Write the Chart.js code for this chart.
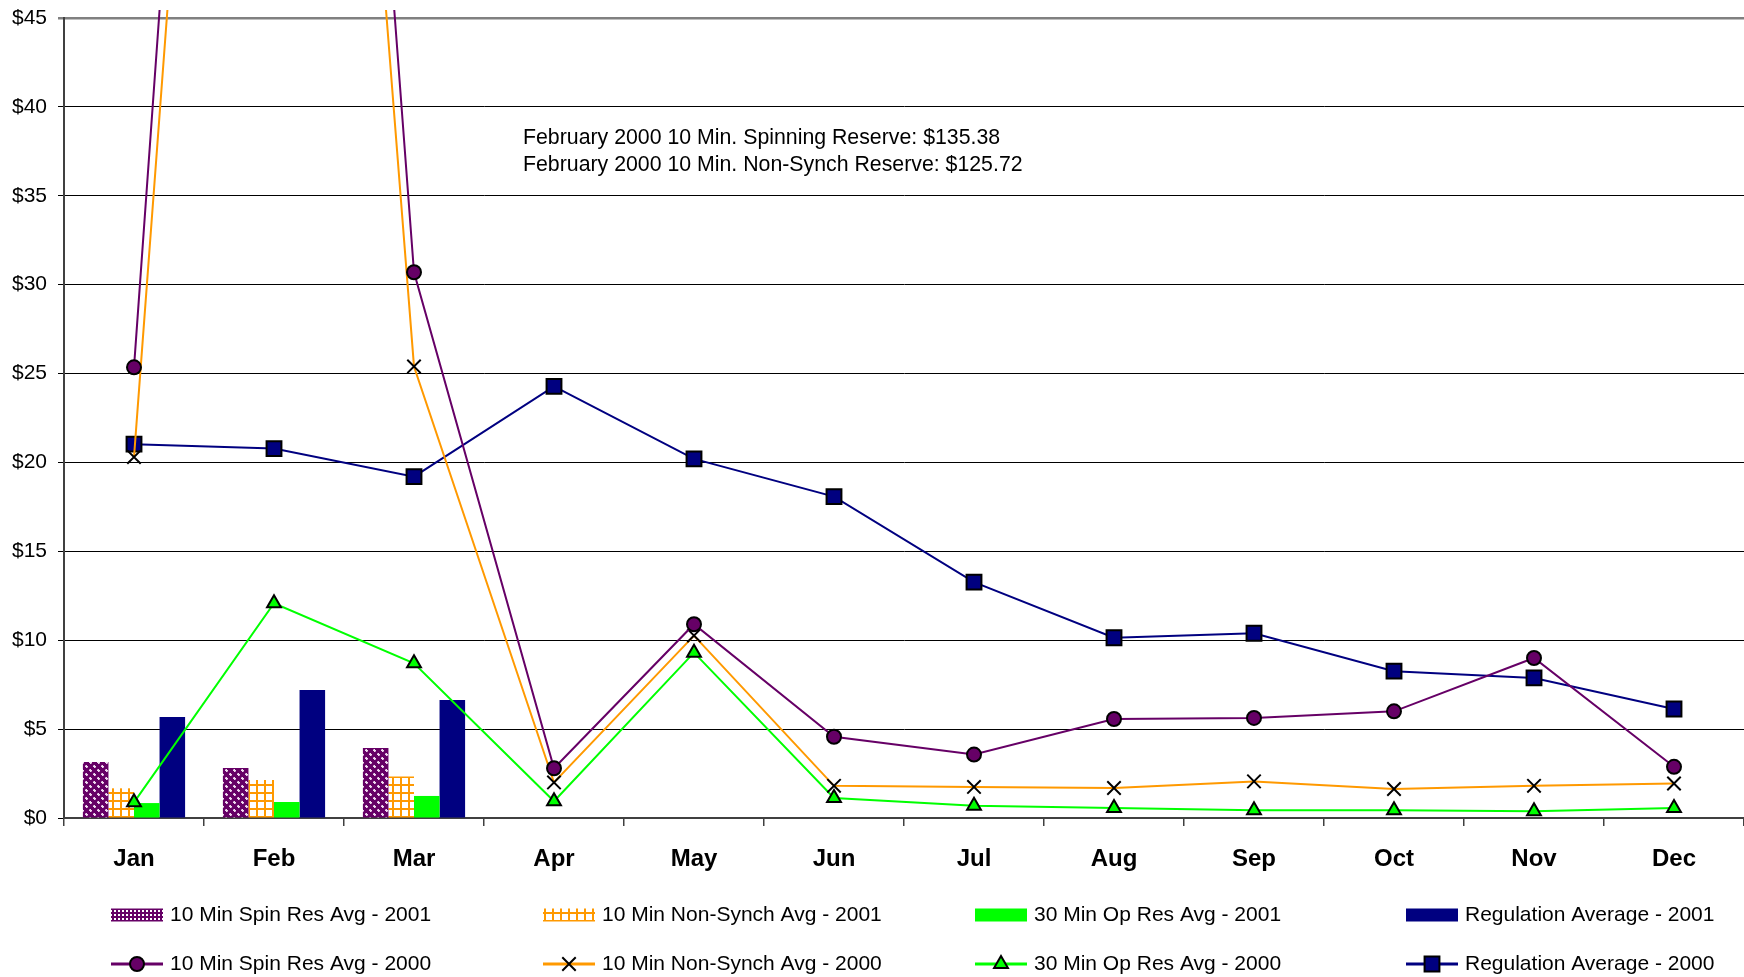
<!DOCTYPE html>
<html>
<head>
<meta charset="utf-8">
<script src="https://cdn.jsdelivr.net/npm/chart.js@4.4.1/dist/chart.umd.min.js"></script>
<style>
  html, body { margin: 0; padding: 0; background: #ffffff; }
  #wrap { width: 1744px; height: 977px; }
</style>
</head>
<body>
<div id="wrap"><canvas id="reserve-chart" width="1744" height="977"></canvas></div>
<script>
const FONT = '"Liberation Sans", Arial, sans-serif';

// ─── Data ─────────────────────────────────────────────────────────────────────

const MONTHS = ['Jan', 'Feb', 'Mar', 'Apr', 'May', 'Jun', 'Jul', 'Aug', 'Sep', 'Oct', 'Nov', 'Dec'];

// 2001 (bars, Jan-Mar only)
const spinRes2001 = [3.15, 2.81, 3.94, null, null, null, null, null, null, null, null, null];
const nonSynch2001 = [1.67, 2.14, 2.34, null, null, null, null, null, null, null, null, null];
const opRes2001 = [0.84, 0.9, 1.24, null, null, null, null, null, null, null, null, null];
const regulation2001 = [5.68, 7.2, 6.64, null, null, null, null, null, null, null, null, null];

// 2000 (lines)
const spinRes2000 = [25.35, 135.38, 30.7, 2.8, 10.9, 4.57, 3.57, 5.57, 5.63, 6.0, 9.0, 2.88];
const nonSynch2000 = [20.3, 125.72, 25.4, 2.0, 10.26, 1.81, 1.75, 1.69, 2.06, 1.63, 1.81, 1.94];
const opRes2000 = [0.88, 12.08, 8.7, 0.94, 9.3, 1.13, 0.69, 0.56, 0.44, 0.44, 0.38, 0.56];
const regulation2000 = [21.03, 20.78, 19.2, 24.28, 20.2, 18.08, 13.27, 10.14, 10.39, 8.26, 7.88, 6.13];

const Y_MIN = 0;
const Y_MAX = 45;
const Y_STEP = 5;

const NOTE_LINES = [
  'February 2000 10 Min. Spinning Reserve: $135.38',
  'February 2000 10 Min. Non-Synch Reserve: $125.72',
];

// ─── Fill patterns ────────────────────────────────────────────────────────────

const makePattern = (size, paint) => {
  const c = document.createElement('canvas');
  c.width = size;
  c.height = size;
  const g = c.getContext('2d');
  paint(g, size);
  return g.createPattern(c, 'repeat');
};

// purple with light diamonds (bars)
const spinPattern = makePattern(8, (g, s) => {
  g.fillStyle = '#660066';
  g.fillRect(0, 0, s, s);
  g.fillStyle = '#f0dcf0';
  g.fillRect(1, 2, 3, 1);
  g.fillRect(2, 1, 1, 3);
  g.fillRect(5, 6, 3, 1);
  g.fillRect(6, 5, 1, 3);
  g.fillStyle = '#b380b3';
  g.fillRect(1, 1, 1, 1);
  g.fillRect(3, 3, 1, 1);
  g.fillRect(5, 5, 1, 1);
  g.fillRect(7, 7, 1, 1);
});

// purple/white checker (legend swatch)
const spinChecker = makePattern(8, (g, s) => {
  g.fillStyle = '#660066';
  g.fillRect(0, 0, s, s);
  g.fillStyle = '#ffffff';
  g.fillRect(2, 2, 2, 2);
  g.fillRect(6, 6, 2, 2);
  g.fillRect(6, 2, 2, 2);
  g.fillRect(2, 6, 2, 2);
});

const gridPattern = makePattern(8, (g, s) => {
  g.fillStyle = '#ffffff';
  g.fillRect(0, 0, s, s);
  g.fillStyle = '#ff9900';
  g.fillRect(0, 0, s, 2);
  g.fillRect(0, 0, 2, s);
});

// ─── Plugins ──────────────────────────────────────────────────────────────────

const LEGEND_X = [111, 543, 975, 1406];
const LEGEND_Y = [915, 964];
const SWATCH_W = 52;

const gridLegend = {
  id: 'gridLegend',
  afterDraw(chart) {
    const { ctx } = chart;
    ctx.save();
    ctx.font = `21px ${FONT}`;
    ctx.textBaseline = 'middle';
    chart.data.datasets.forEach((ds, i) => {
      const x = LEGEND_X[i % 4];
      const y = LEGEND_Y[Math.floor(i / 4)];
      if (ds.type === 'line') {
        ctx.strokeStyle = ds.borderColor;
        ctx.lineWidth = 3;
        ctx.beginPath();
        ctx.moveTo(x, y);
        ctx.lineTo(x + SWATCH_W, y);
        ctx.stroke();
        ctx.fillStyle = ds.pointBackgroundColor;
        ctx.strokeStyle = ds.pointBorderColor;
        ctx.lineWidth = ds.pointBorderWidth;
        Chart.helpers.drawPoint(ctx, {
          pointStyle: ds.pointStyle,
          radius: ds.pointRadius,
          borderWidth: ds.pointBorderWidth,
          rotation: 0,
        }, x + SWATCH_W / 2, y);
      } else {
        ctx.fillStyle = ds.legendFill || ds.backgroundColor;
        ctx.fillRect(x, y - 6.5, SWATCH_W, 13);
      }
      ctx.fillStyle = '#000000';
      ctx.fillText(ds.label, x + SWATCH_W + 7, y);
    });
    ctx.restore();
  },
};

const noteText = {
  id: 'noteText',
  afterDraw(chart) {
    const { ctx } = chart;
    ctx.save();
    ctx.font = `21.3px ${FONT}`;
    ctx.textBaseline = 'middle';
    ctx.fillStyle = '#000000';
    NOTE_LINES.forEach((t, i) => ctx.fillText(t, 523, 138 + i * 27));
    ctx.restore();
  },
};

// ─── Chart ────────────────────────────────────────────────────────────────────

const barSet = (label, data, fill, legendFill) => ({
  type: 'bar',
  label,
  data,
  backgroundColor: fill,
  legendFill,
  borderWidth: 0,
  order: 2,
});

const lineSet = (label, data, color, style, radius, fill) => ({
  type: 'line',
  label,
  data,
  borderColor: color,
  borderWidth: 2,
  pointStyle: style,
  pointRadius: radius,
  pointBackgroundColor: fill,
  pointBorderColor: '#000000',
  pointBorderWidth: 2,
  tension: 0,
  clip: { left: 5, top: 8, right: 5, bottom: 5 },
  order: 1,
});

const noPadding = (scale) => {
  scale.paddingLeft = 0;
  scale.paddingRight = 0;
  scale.paddingTop = 0;
  scale.paddingBottom = 0;
};

new Chart(document.getElementById('reserve-chart'), {
  data: {
    labels: MONTHS,
    datasets: [
      barSet('10 Min Spin Res Avg - 2001', spinRes2001, spinPattern, spinChecker),
      barSet('10 Min Non-Synch Avg - 2001', nonSynch2001, gridPattern),
      barSet('30 Min Op Res Avg - 2001', opRes2001, '#00ff00'),
      barSet('Regulation Average - 2001', regulation2001, '#000080'),
      lineSet('10 Min Spin Res Avg - 2000', spinRes2000, '#660066', 'circle', 7, '#660066'),
      lineSet('10 Min Non-Synch Avg - 2000', nonSynch2000, '#ff9900', 'crossRot', 9.5, '#ff9900'),
      lineSet('30 Min Op Res Avg - 2000', opRes2000, '#00ff00', 'triangle', 8, '#00ff00'),
      lineSet('Regulation Average - 2000', regulation2000, '#000080', 'rect', 10.5, '#000080'),
    ],
  },
  options: {
    responsive: false,
    animation: false,
    layout: { autoPadding: false, padding: { top: 18, right: 0, bottom: 0, left: 0 } },
    datasets: {
      bar: { categoryPercentage: 0.73, barPercentage: 1.0 },
    },
    plugins: {
      legend: { display: false },
      tooltip: { enabled: false },
    },
    scales: {
      x: {
        offset: true,
        afterFit: (scale) => {
          scale.height = 159;
          noPadding(scale);
        },
        grid: {
          offset: true,
          drawOnChartArea: false,
          drawTicks: true,
          tickLength: 8,
          color: '#404040',
          lineWidth: 1.5,
        },
        border: { display: true, color: '#404040', width: 2 },
        ticks: {
          color: '#000000',
          padding: 19,
          font: { family: FONT, size: 24, weight: 'bold' },
        },
      },
      y: {
        min: Y_MIN,
        max: Y_MAX,
        afterFit: (scale) => {
          scale.width = 64;
          noPadding(scale);
        },
        grid: {
          color: (c) => (c.tick.value === Y_MAX ? '#808080' : '#000000'),
          lineWidth: (c) => (c.tick.value === Y_MAX ? 2.5 : 1),
          tickLength: 6,
        },
        border: { display: true, color: '#404040', width: 2 },
        ticks: {
          stepSize: Y_STEP,
          color: '#000000',
          padding: 11,
          font: { family: FONT, size: 21 },
          callback: (v) => `$${v}`,
        },
      },
    },
  },
  plugins: [gridLegend, noteText],
});
</script>
</body>
</html>
